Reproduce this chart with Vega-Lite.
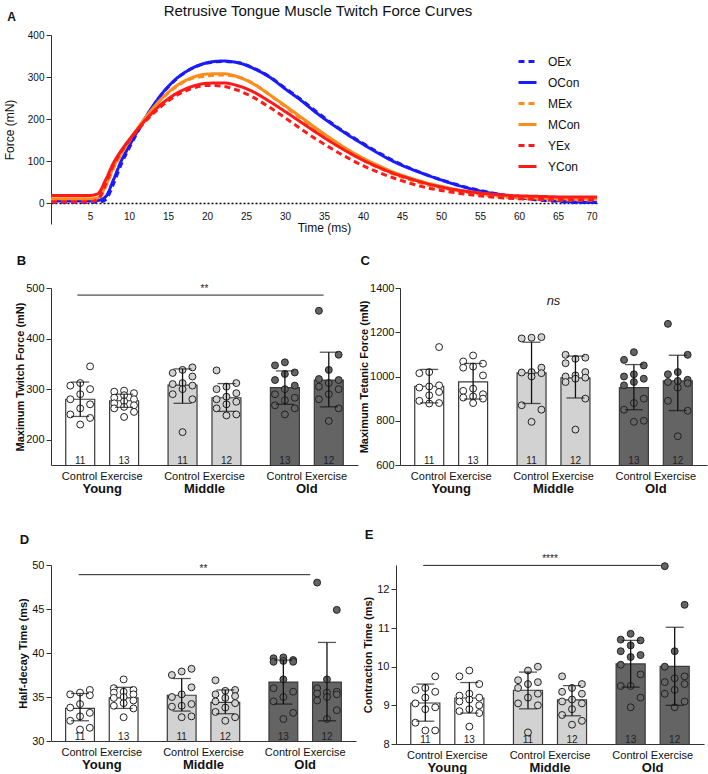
{
  "$schema": "https://vega.github.io/schema/vega-lite/v6.json",
  "padding": {"left": 3, "top": 4, "right": 2, "bottom": 4},
  "title": {"text": "A", "anchor": "start", "frame": "bounds", "fontSize": 12, "fontWeight": "bold", "dy": 24, "dx": 4},
  "columns": 1,
  "align": "none",
  "spacing": 22,
  "resolve": {"scale": {"color": "independent", "strokeDash": "independent"}, "legend": {"color": "independent", "strokeDash": "independent"}},
  "concat": [
    {
      "title": {"text": "Retrusive Tongue Muscle Twitch Force Curves", "fontSize": 15, "fontWeight": "normal", "anchor": "middle", "frame": "group", "dx": -6, "offset": 11},
      "width": 546, "height": 189,
      "data": {"name": "curves"},
      "transform": [{"fold": ["OEx", "OCon", "MEx", "MCon", "YEx", "YCon"], "as": ["series", "force"]}],
      "mark": {"type": "line", "strokeWidth": 3, "interpolate": "monotone"},
      "encoding": {
        "x": {"field": "t", "type": "quantitative", "scale": {"domain": [0, 70], "nice": false},
          "axis": {"values": [5, 10, 15, 20, 25, 30, 35, 40, 45, 50, 55, 60, 65, 70], "title": "Time (ms)", "offset": -21, "domainDash": [2, 2], "domainColor": "#000000", "domainWidth": 1.5, "ticks": false, "labelPadding": 8, "labelFontSize": 10, "titleFontSize": 12, "titleFontWeight": "normal", "titlePadding": 1}},
        "y": {"field": "force", "type": "quantitative", "scale": {"domain": [-50, 400], "nice": false},
          "axis": {"values": [0, 100, 200, 300, 400], "title": "Force (mN)", "titleFontWeight": "normal", "titleFontSize": 12, "labelFontSize": 10, "titlePadding": 11}},
        "color": {"field": "series", "type": "nominal",
          "scale": {"domain": ["OEx", "OCon", "MEx", "MCon", "YEx", "YCon"], "range": ["#1a1aff", "#1a1aff", "#ff8c1a", "#ff8c1a", "#ff1a1a", "#ff1a1a"]},
          "legend": {"title": null, "orient": "top-right", "offset": 16, "symbolType": "stroke", "symbolSize": 324, "symbolStrokeWidth": 3, "labelFontSize": 12, "labelOffset": 10, "rowPadding": 4, "labelColor": "#111111"}},
        "strokeDash": {"field": "series", "type": "nominal",
          "scale": {"domain": ["OEx", "OCon", "MEx", "MCon", "YEx", "YCon"], "range": [[6, 4], [1, 0], [6, 4], [1, 0], [6, 4], [1, 0]]},
          "legend": {"title": null, "orient": "top-right", "offset": 16, "symbolType": "stroke", "symbolSize": 324, "symbolStrokeWidth": 3, "labelFontSize": 12, "labelOffset": 10, "rowPadding": 4, "labelColor": "#111111"}}
      }
    },
    {"concat": [
      {"hconcat": [
        {
          "title": {"text": "B", "anchor": "start", "frame": "bounds", "fontSize": 13, "fontWeight": "bold", "offset": 14, "dx": 2},
          "width": 307, "height": 177,
          "resolve": {"scale": {"x": "independent", "xOffset": "independent"}},
          "layer": [
            {
              "data": {"name": "bars"},
              "transform": [{"filter": "datum.panel == 'B'"}],
              "mark": {"type": "bar", "stroke": "#3a3a3a", "strokeWidth": 1.2, "clip": true},
              "encoding": {
                "x": {"field": "age", "type": "nominal", "scale": {"domain": ["Young", "Middle", "Old"], "paddingInner": 0.288, "paddingOuter": 0.144},
                  "axis": {"orient": "bottom", "title": null, "labelExpr": "'Control Exercise'", "ticks": false, "labelAngle": 0, "labelPadding": 5, "labelFontSize": 11}},
                "xOffset": {"field": "treat", "type": "nominal", "scale": {"domain": ["Control", "Exercise"], "paddingInner": 0.34, "paddingOuter": 0}},
                "y": {"field": "mean", "type": "quantitative", "title": "Maximum Twitch Force (mN)", "scale": {"domain": [150, 500]}, "axis": {"values": [200, 300, 400, 500], "format": "d", "titlePadding": 0}},
                "fill": {"field": "age", "type": "nominal", "scale": {"domain": ["Young", "Middle", "Old"], "range": ["#ffffff", "#d2d2d2", "#646464"]}, "legend": null}
              }
            },
            {
              "data": {"name": "pts"},
              "transform": [
                {"filter": "datum.panel == 'B'"},
                {"window": [{"op": "row_number", "as": "rk"}], "groupby": ["age", "treat"], "sort": [{"field": "v", "order": "ascending"}]},
                {"calculate": "(datum.treat == 'Control' ? -1 : 1) + ((datum.rk % 3) - 1) * 0.45", "as": "off"}
              ],
              "mark": {"type": "circle", "size": 48, "stroke": "#222222", "strokeWidth": 1, "opacity": 1},
              "encoding": {
                "x": {"field": "age", "type": "nominal", "scale": {"domain": ["Young", "Middle", "Old"], "paddingInner": 0.288, "paddingOuter": 0.144},
                  "axis": {"orient": "bottom", "title": null, "ticks": false, "domain": false, "labelAngle": 0, "labelFontSize": 13, "labelFontWeight": "bold", "offset": 17, "labelPadding": 0}},
                "xOffset": {"field": "off", "type": "quantitative", "scale": {"domain": [-1.66, 1.66]}},
                "y": {"field": "v", "type": "quantitative", "title": "Maximum Twitch Force (mN)", "scale": {"domain": [150, 500]}},
                "fill": {"field": "age", "type": "nominal", "legend": null}
              }
            },
            {
              "data": {"name": "bars"},
              "transform": [{"filter": "datum.panel == 'B'"}],
              "encoding": {
                "x": {"field": "age", "type": "nominal", "scale": {"domain": ["Young", "Middle", "Old"], "paddingInner": 0.288, "paddingOuter": 0.144}, "axis": null},
                "xOffset": {"field": "treat", "type": "nominal", "scale": {"domain": ["Control", "Exercise"], "paddingInner": 0.34, "paddingOuter": 0}}
              },
              "layer": [
                {"mark": {"type": "rule", "color": "#111111", "strokeWidth": 1.3}, "encoding": {"y": {"field": "lo", "type": "quantitative", "title": "Maximum Twitch Force (mN)"}, "y2": {"field": "hi"}}},
                {"mark": {"type": "tick", "color": "#111111", "thickness": 1.3, "size": 18}, "encoding": {"y": {"field": "lo", "type": "quantitative", "title": "Maximum Twitch Force (mN)"}}},
                {"mark": {"type": "tick", "color": "#111111", "thickness": 1.3, "size": 18}, "encoding": {"y": {"field": "hi", "type": "quantitative", "title": "Maximum Twitch Force (mN)"}}},
                {"mark": {"type": "text", "y": "height", "baseline": "bottom", "dy": 1, "fontSize": 10, "color": "#222222"}, "encoding": {"text": {"field": "n", "type": "quantitative"}}}
              ]
            },
            {
              "data": {"name": "sig"},
              "transform": [{"filter": "datum.panel == 'B'"}],
              "mark": {"type": "rule", "color": "#222222", "strokeWidth": 1},
              "encoding": {
                "x": {"field": "from", "type": "nominal", "scale": {"domain": ["Young", "Middle", "Old"], "paddingInner": 0.288, "paddingOuter": 0.144}, "axis": null, "bandPosition": 0.16},
                "x2": {"field": "to", "bandPosition": 0.73},
                "y": {"field": "y", "type": "quantitative", "title": "Maximum Twitch Force (mN)"}
              }
            },
            {
              "data": {"name": "sig"},
              "transform": [{"filter": "datum.panel == 'B'"}],
              "mark": {"type": "text", "baseline": "bottom", "fontSize": 10, "dy": -1, "color": "#222222"},
              "encoding": {
                "x": {"datum": "Middle", "type": "nominal", "scale": {"domain": ["Young", "Middle", "Old"], "paddingInner": 0.288, "paddingOuter": 0.144}, "axis": null, "bandPosition": 0.38},
                "y": {"field": "y", "type": "quantitative", "title": "Maximum Twitch Force (mN)"},
                "text": {"field": "label"}
              }
            }
          ]
        },
        {
          "title": {"text": "C", "anchor": "start", "frame": "bounds", "fontSize": 13, "fontWeight": "bold", "offset": 14, "dx": 2},
          "width": 307, "height": 177,
          "resolve": {"scale": {"x": "independent", "xOffset": "independent"}},
          "layer": [
            {
              "data": {"name": "bars"},
              "transform": [{"filter": "datum.panel == 'C'"}],
              "mark": {"type": "bar", "stroke": "#3a3a3a", "strokeWidth": 1.2, "clip": true},
              "encoding": {
                "x": {"field": "age", "type": "nominal", "scale": {"domain": ["Young", "Middle", "Old"], "paddingInner": 0.288, "paddingOuter": 0.144},
                  "axis": {"orient": "bottom", "title": null, "labelExpr": "'Control Exercise'", "ticks": false, "labelAngle": 0, "labelPadding": 5, "labelFontSize": 11}},
                "xOffset": {"field": "treat", "type": "nominal", "scale": {"domain": ["Control", "Exercise"], "paddingInner": 0.34, "paddingOuter": 0}},
                "y": {"field": "mean", "type": "quantitative", "title": "Maximum Tetanic Force (mN)", "scale": {"domain": [600, 1400]}, "axis": {"values": [600, 800, 1000, 1200, 1400], "format": "d", "titlePadding": 0, "labelPadding": 1}},
                "fill": {"field": "age", "type": "nominal", "scale": {"domain": ["Young", "Middle", "Old"], "range": ["#ffffff", "#d2d2d2", "#646464"]}, "legend": null}
              }
            },
            {
              "data": {"name": "pts"},
              "transform": [
                {"filter": "datum.panel == 'C'"},
                {"window": [{"op": "row_number", "as": "rk"}], "groupby": ["age", "treat"], "sort": [{"field": "v", "order": "ascending"}]},
                {"calculate": "(datum.treat == 'Control' ? -1 : 1) + ((datum.rk % 3) - 1) * 0.45", "as": "off"}
              ],
              "mark": {"type": "circle", "size": 48, "stroke": "#222222", "strokeWidth": 1, "opacity": 1},
              "encoding": {
                "x": {"field": "age", "type": "nominal", "scale": {"domain": ["Young", "Middle", "Old"], "paddingInner": 0.288, "paddingOuter": 0.144},
                  "axis": {"orient": "bottom", "title": null, "ticks": false, "domain": false, "labelAngle": 0, "labelFontSize": 13, "labelFontWeight": "bold", "offset": 17, "labelPadding": 0}},
                "xOffset": {"field": "off", "type": "quantitative", "scale": {"domain": [-1.66, 1.66]}},
                "y": {"field": "v", "type": "quantitative", "title": "Maximum Tetanic Force (mN)", "scale": {"domain": [600, 1400]}},
                "fill": {"field": "age", "type": "nominal", "legend": null}
              }
            },
            {
              "data": {"name": "bars"},
              "transform": [{"filter": "datum.panel == 'C'"}],
              "encoding": {
                "x": {"field": "age", "type": "nominal", "scale": {"domain": ["Young", "Middle", "Old"], "paddingInner": 0.288, "paddingOuter": 0.144}, "axis": null},
                "xOffset": {"field": "treat", "type": "nominal", "scale": {"domain": ["Control", "Exercise"], "paddingInner": 0.34, "paddingOuter": 0}}
              },
              "layer": [
                {"mark": {"type": "rule", "color": "#111111", "strokeWidth": 1.3}, "encoding": {"y": {"field": "lo", "type": "quantitative", "title": "Maximum Tetanic Force (mN)"}, "y2": {"field": "hi"}}},
                {"mark": {"type": "tick", "color": "#111111", "thickness": 1.3, "size": 18}, "encoding": {"y": {"field": "lo", "type": "quantitative", "title": "Maximum Tetanic Force (mN)"}}},
                {"mark": {"type": "tick", "color": "#111111", "thickness": 1.3, "size": 18}, "encoding": {"y": {"field": "hi", "type": "quantitative", "title": "Maximum Tetanic Force (mN)"}}},
                {"mark": {"type": "text", "y": "height", "baseline": "bottom", "dy": 1, "fontSize": 10, "color": "#222222"}, "encoding": {"text": {"field": "n", "type": "quantitative"}}}
              ]
            },
            {
              "data": {"name": "sig"},
              "transform": [{"filter": "datum.panel == 'C'"}],
              "mark": {"type": "text", "baseline": "middle", "fontSize": 13, "fontStyle": "italic", "color": "#222222"},
              "encoding": {
                "x": {"datum": "Middle", "type": "nominal", "scale": {"domain": ["Young", "Middle", "Old"], "paddingInner": 0.288, "paddingOuter": 0.144}, "axis": null, "bandPosition": 0.41},
                "y": {"field": "y", "type": "quantitative", "title": "Maximum Tetanic Force (mN)"},
                "text": {"field": "label"}
              }
            }
          ]
        }
      ], "spacing": 0},
      {"hconcat": [
        {
          "title": {"text": "D", "anchor": "start", "frame": "bounds", "fontSize": 13, "fontWeight": "bold", "offset": 12, "dx": 2},
          "width": 305, "height": 176,
          "resolve": {"scale": {"x": "independent", "xOffset": "independent"}},
          "layer": [
            {
              "data": {"name": "bars"},
              "transform": [{"filter": "datum.panel == 'D'"}],
              "mark": {"type": "bar", "stroke": "#3a3a3a", "strokeWidth": 1.2, "clip": true},
              "encoding": {
                "x": {"field": "age", "type": "nominal", "scale": {"domain": ["Young", "Middle", "Old"], "paddingInner": 0.288, "paddingOuter": 0.144},
                  "axis": {"orient": "bottom", "title": null, "labelExpr": "'Control Exercise'", "ticks": false, "labelAngle": 0, "labelPadding": 5, "labelFontSize": 11}},
                "xOffset": {"field": "treat", "type": "nominal", "scale": {"domain": ["Control", "Exercise"], "paddingInner": 0.34, "paddingOuter": 0}},
                "y": {"field": "mean", "type": "quantitative", "title": "Half-decay Time (ms)", "scale": {"domain": [30, 50]}, "axis": {"values": [30, 35, 40, 45, 50], "format": "d"}},
                "fill": {"field": "age", "type": "nominal", "scale": {"domain": ["Young", "Middle", "Old"], "range": ["#ffffff", "#d2d2d2", "#646464"]}, "legend": null}
              }
            },
            {
              "data": {"name": "pts"},
              "transform": [
                {"filter": "datum.panel == 'D'"},
                {"window": [{"op": "row_number", "as": "rk"}], "groupby": ["age", "treat"], "sort": [{"field": "v", "order": "ascending"}]},
                {"calculate": "(datum.treat == 'Control' ? -1 : 1) + ((datum.rk % 3) - 1) * 0.45", "as": "off"}
              ],
              "mark": {"type": "circle", "size": 48, "stroke": "#222222", "strokeWidth": 1, "opacity": 1},
              "encoding": {
                "x": {"field": "age", "type": "nominal", "scale": {"domain": ["Young", "Middle", "Old"], "paddingInner": 0.288, "paddingOuter": 0.144},
                  "axis": {"orient": "bottom", "title": null, "ticks": false, "domain": false, "labelAngle": 0, "labelFontSize": 13, "labelFontWeight": "bold", "offset": 17, "labelPadding": 0}},
                "xOffset": {"field": "off", "type": "quantitative", "scale": {"domain": [-1.66, 1.66]}},
                "y": {"field": "v", "type": "quantitative", "title": "Half-decay Time (ms)", "scale": {"domain": [30, 50]}},
                "fill": {"field": "age", "type": "nominal", "legend": null}
              }
            },
            {
              "data": {"name": "bars"},
              "transform": [{"filter": "datum.panel == 'D'"}],
              "encoding": {
                "x": {"field": "age", "type": "nominal", "scale": {"domain": ["Young", "Middle", "Old"], "paddingInner": 0.288, "paddingOuter": 0.144}, "axis": null},
                "xOffset": {"field": "treat", "type": "nominal", "scale": {"domain": ["Control", "Exercise"], "paddingInner": 0.34, "paddingOuter": 0}}
              },
              "layer": [
                {"mark": {"type": "rule", "color": "#111111", "strokeWidth": 1.3}, "encoding": {"y": {"field": "lo", "type": "quantitative", "title": "Half-decay Time (ms)"}, "y2": {"field": "hi"}}},
                {"mark": {"type": "tick", "color": "#111111", "thickness": 1.3, "size": 18}, "encoding": {"y": {"field": "lo", "type": "quantitative", "title": "Half-decay Time (ms)"}}},
                {"mark": {"type": "tick", "color": "#111111", "thickness": 1.3, "size": 18}, "encoding": {"y": {"field": "hi", "type": "quantitative", "title": "Half-decay Time (ms)"}}},
                {"mark": {"type": "text", "y": "height", "baseline": "bottom", "dy": 1, "fontSize": 10, "color": "#222222"}, "encoding": {"text": {"field": "n", "type": "quantitative"}}}
              ]
            },
            {
              "data": {"name": "sig"},
              "transform": [{"filter": "datum.panel == 'D'"}],
              "mark": {"type": "rule", "color": "#222222", "strokeWidth": 1},
              "encoding": {
                "x": {"field": "from", "type": "nominal", "scale": {"domain": ["Young", "Middle", "Old"], "paddingInner": 0.288, "paddingOuter": 0.144}, "axis": null, "bandPosition": 0.18},
                "x2": {"field": "to", "bandPosition": 0.57},
                "y": {"field": "y", "type": "quantitative", "title": "Half-decay Time (ms)"}
              }
            },
            {
              "data": {"name": "sig"},
              "transform": [{"filter": "datum.panel == 'D'"}],
              "mark": {"type": "text", "baseline": "bottom", "fontSize": 10, "dy": -1, "color": "#222222"},
              "encoding": {
                "x": {"datum": "Middle", "type": "nominal", "scale": {"domain": ["Young", "Middle", "Old"], "paddingInner": 0.288, "paddingOuter": 0.144}, "axis": null, "bandPosition": 0.35},
                "y": {"field": "y", "type": "quantitative", "title": "Half-decay Time (ms)"},
                "text": {"field": "label"}
              }
            }
          ]
        },
        {
          "title": {"text": "E", "anchor": "start", "frame": "bounds", "fontSize": 13, "fontWeight": "bold", "offset": 12, "dx": 2},
          "width": 308, "height": 179,
          "resolve": {"scale": {"x": "independent", "xOffset": "independent"}},
          "layer": [
            {
              "data": {"name": "bars"},
              "transform": [{"filter": "datum.panel == 'E'"}],
              "mark": {"type": "bar", "stroke": "#3a3a3a", "strokeWidth": 1.2, "clip": true},
              "encoding": {
                "x": {"field": "age", "type": "nominal", "scale": {"domain": ["Young", "Middle", "Old"], "paddingInner": 0.288, "paddingOuter": 0.144},
                  "axis": {"orient": "bottom", "title": null, "labelExpr": "'Control Exercise'", "ticks": false, "labelAngle": 0, "labelPadding": 5, "labelFontSize": 11}},
                "xOffset": {"field": "treat", "type": "nominal", "scale": {"domain": ["Control", "Exercise"], "paddingInner": 0.34, "paddingOuter": 0}},
                "y": {"field": "mean", "type": "quantitative", "title": "Contraction Time (ms)", "scale": {"domain": [8, 12.63], "nice": false}, "axis": {"values": [8, 9, 10, 11, 12], "format": "d"}},
                "fill": {"field": "age", "type": "nominal", "scale": {"domain": ["Young", "Middle", "Old"], "range": ["#ffffff", "#d2d2d2", "#646464"]}, "legend": null}
              }
            },
            {
              "data": {"name": "pts"},
              "transform": [
                {"filter": "datum.panel == 'E'"},
                {"window": [{"op": "row_number", "as": "rk"}], "groupby": ["age", "treat"], "sort": [{"field": "v", "order": "ascending"}]},
                {"calculate": "(datum.treat == 'Control' ? -1 : 1) + ((datum.rk % 3) - 1) * 0.45", "as": "off"}
              ],
              "mark": {"type": "circle", "size": 48, "stroke": "#222222", "strokeWidth": 1, "opacity": 1},
              "encoding": {
                "x": {"field": "age", "type": "nominal", "scale": {"domain": ["Young", "Middle", "Old"], "paddingInner": 0.288, "paddingOuter": 0.144},
                  "axis": {"orient": "bottom", "title": null, "ticks": false, "domain": false, "labelAngle": 0, "labelFontSize": 13, "labelFontWeight": "bold", "offset": 17, "labelPadding": 0}},
                "xOffset": {"field": "off", "type": "quantitative", "scale": {"domain": [-1.66, 1.66]}},
                "y": {"field": "v", "type": "quantitative", "title": "Contraction Time (ms)", "scale": {"domain": [8, 12.63], "nice": false}},
                "fill": {"field": "age", "type": "nominal", "legend": null}
              }
            },
            {
              "data": {"name": "bars"},
              "transform": [{"filter": "datum.panel == 'E'"}],
              "encoding": {
                "x": {"field": "age", "type": "nominal", "scale": {"domain": ["Young", "Middle", "Old"], "paddingInner": 0.288, "paddingOuter": 0.144}, "axis": null},
                "xOffset": {"field": "treat", "type": "nominal", "scale": {"domain": ["Control", "Exercise"], "paddingInner": 0.34, "paddingOuter": 0}}
              },
              "layer": [
                {"mark": {"type": "rule", "color": "#111111", "strokeWidth": 1.3}, "encoding": {"y": {"field": "lo", "type": "quantitative", "title": "Contraction Time (ms)"}, "y2": {"field": "hi"}}},
                {"mark": {"type": "tick", "color": "#111111", "thickness": 1.3, "size": 18}, "encoding": {"y": {"field": "lo", "type": "quantitative", "title": "Contraction Time (ms)"}}},
                {"mark": {"type": "tick", "color": "#111111", "thickness": 1.3, "size": 18}, "encoding": {"y": {"field": "hi", "type": "quantitative", "title": "Contraction Time (ms)"}}},
                {"mark": {"type": "text", "y": "height", "baseline": "bottom", "dy": 1, "fontSize": 10, "color": "#222222"}, "encoding": {"text": {"field": "n", "type": "quantitative"}}}
              ]
            },
            {
              "data": {"name": "sig"},
              "transform": [{"filter": "datum.panel == 'E'"}],
              "mark": {"type": "rule", "color": "#222222", "strokeWidth": 1},
              "encoding": {
                "x": {"field": "from", "type": "nominal", "scale": {"domain": ["Young", "Middle", "Old"], "paddingInner": 0.288, "paddingOuter": 0.144}, "axis": null, "bandPosition": 0.17},
                "x2": {"field": "to", "bandPosition": 0.61},
                "y": {"field": "y", "type": "quantitative", "title": "Contraction Time (ms)"}
              }
            },
            {
              "data": {"name": "sig"},
              "transform": [{"filter": "datum.panel == 'E'"}],
              "mark": {"type": "text", "baseline": "bottom", "fontSize": 10, "dy": -1, "color": "#222222"},
              "encoding": {
                "x": {"datum": "Middle", "type": "nominal", "scale": {"domain": ["Young", "Middle", "Old"], "paddingInner": 0.288, "paddingOuter": 0.144}, "axis": null, "bandPosition": 0.35},
                "y": {"field": "y", "type": "quantitative", "title": "Contraction Time (ms)"},
                "text": {"field": "label"}
              }
            }
          ]
        }
      ], "spacing": 6}
    ], "columns": 1, "align": "none", "spacing": 34}
  ],
  "datasets": {
    "curves": [
      {"t": 0, "OEx": 2, "OCon": 5, "MEx": 6, "MCon": 10, "YEx": 3, "YCon": 18},
      {"t": 5, "OEx": 2, "OCon": 5, "MEx": 6, "MCon": 10, "YEx": 3, "YCon": 18},
      {"t": 6, "OEx": 2, "OCon": 6, "MEx": 8, "MCon": 12, "YEx": 8, "YCon": 22},
      {"t": 7, "OEx": 8, "OCon": 15, "MEx": 38, "MCon": 40, "YEx": 45, "YCon": 55},
      {"t": 8, "OEx": 45, "OCon": 55, "MEx": 82, "MCon": 85, "YEx": 90, "YCon": 95},
      {"t": 9, "OEx": 92, "OCon": 100, "MEx": 116, "MCon": 118, "YEx": 122, "YCon": 125},
      {"t": 10, "OEx": 130, "OCon": 135, "MEx": 146, "MCon": 148, "YEx": 148, "YCon": 150},
      {"t": 12, "OEx": 198, "OCon": 200, "MEx": 200, "MCon": 200, "YEx": 192, "YCon": 195},
      {"t": 14, "OEx": 254, "OCon": 255, "MEx": 244, "MCon": 245, "YEx": 228, "YCon": 233},
      {"t": 16, "OEx": 294, "OCon": 295, "MEx": 276, "MCon": 278, "YEx": 255, "YCon": 260},
      {"t": 18, "OEx": 320, "OCon": 320, "MEx": 296, "MCon": 298, "YEx": 272, "YCon": 277},
      {"t": 20, "OEx": 333, "OCon": 334, "MEx": 302, "MCon": 307, "YEx": 280, "YCon": 285},
      {"t": 22, "OEx": 337, "OCon": 338, "MEx": 305, "MCon": 308, "YEx": 278, "YCon": 286},
      {"t": 24, "OEx": 334, "OCon": 334, "MEx": 300, "MCon": 300, "YEx": 268, "YCon": 279},
      {"t": 26, "OEx": 321, "OCon": 320, "MEx": 284, "MCon": 283, "YEx": 251, "YCon": 264},
      {"t": 28, "OEx": 301, "OCon": 300, "MEx": 258, "MCon": 258, "YEx": 228, "YCon": 242},
      {"t": 30, "OEx": 274, "OCon": 272, "MEx": 230, "MCon": 232, "YEx": 203, "YCon": 218},
      {"t": 32, "OEx": 247, "OCon": 245, "MEx": 202, "MCon": 205, "YEx": 177, "YCon": 193},
      {"t": 34, "OEx": 218, "OCon": 215, "MEx": 174, "MCon": 178, "YEx": 152, "YCon": 168},
      {"t": 36, "OEx": 190, "OCon": 188, "MEx": 147, "MCon": 152, "YEx": 129, "YCon": 144},
      {"t": 38, "OEx": 165, "OCon": 163, "MEx": 123, "MCon": 128, "YEx": 108, "YCon": 122},
      {"t": 40, "OEx": 142, "OCon": 140, "MEx": 102, "MCon": 107, "YEx": 89, "YCon": 102},
      {"t": 42, "OEx": 120, "OCon": 118, "MEx": 84, "MCon": 89, "YEx": 73, "YCon": 85},
      {"t": 44, "OEx": 100, "OCon": 98, "MEx": 68, "MCon": 73, "YEx": 59, "YCon": 70},
      {"t": 46, "OEx": 83, "OCon": 82, "MEx": 55, "MCon": 60, "YEx": 47, "YCon": 58},
      {"t": 48, "OEx": 68, "OCon": 68, "MEx": 44, "MCon": 49, "YEx": 37, "YCon": 47},
      {"t": 50, "OEx": 55, "OCon": 55, "MEx": 36, "MCon": 40, "YEx": 30, "YCon": 38},
      {"t": 52, "OEx": 44, "OCon": 43, "MEx": 29, "MCon": 32, "YEx": 24, "YCon": 31},
      {"t": 54, "OEx": 34, "OCon": 33, "MEx": 23, "MCon": 26, "YEx": 19, "YCon": 26},
      {"t": 56, "OEx": 26, "OCon": 25, "MEx": 18, "MCon": 21, "YEx": 15, "YCon": 22},
      {"t": 58, "OEx": 19, "OCon": 19, "MEx": 14, "MCon": 17, "YEx": 12, "YCon": 19},
      {"t": 60, "OEx": 13, "OCon": 14, "MEx": 11, "MCon": 14, "YEx": 10, "YCon": 17},
      {"t": 62, "OEx": 8, "OCon": 10, "MEx": 9, "MCon": 12, "YEx": 9, "YCon": 16},
      {"t": 64, "OEx": 5, "OCon": 7, "MEx": 8, "MCon": 11, "YEx": 8, "YCon": 15},
      {"t": 66, "OEx": 2, "OCon": 4, "MEx": 7, "MCon": 10, "YEx": 8, "YCon": 14},
      {"t": 68, "OEx": 1, "OCon": 2, "MEx": 7, "MCon": 10, "YEx": 8, "YCon": 14},
      {"t": 70, "OEx": 1, "OCon": 2, "MEx": 7, "MCon": 10, "YEx": 8, "YCon": 14}
    ],
    "bars": [
      {"panel": "B", "age": "Young", "treat": "Control", "mean": 280, "lo": 246, "hi": 314, "n": 11},
      {"panel": "B", "age": "Young", "treat": "Exercise", "mean": 277, "lo": 264, "hi": 290, "n": 13},
      {"panel": "B", "age": "Middle", "treat": "Control", "mean": 308, "lo": 272, "hi": 340, "n": 11},
      {"panel": "B", "age": "Middle", "treat": "Exercise", "mean": 283, "lo": 256, "hi": 311, "n": 12},
      {"panel": "B", "age": "Old", "treat": "Control", "mean": 303, "lo": 270, "hi": 336, "n": 13},
      {"panel": "B", "age": "Old", "treat": "Exercise", "mean": 318, "lo": 265, "hi": 373, "n": 12},
      {"panel": "C", "age": "Young", "treat": "Control", "mean": 956, "lo": 881, "hi": 1032, "n": 11},
      {"panel": "C", "age": "Young", "treat": "Exercise", "mean": 976, "lo": 898, "hi": 1059, "n": 13},
      {"panel": "C", "age": "Middle", "treat": "Control", "mean": 1016, "lo": 878, "hi": 1155, "n": 11},
      {"panel": "C", "age": "Middle", "treat": "Exercise", "mean": 994, "lo": 903, "hi": 1092, "n": 12},
      {"panel": "C", "age": "Old", "treat": "Control", "mean": 950, "lo": 850, "hi": 1054, "n": 13},
      {"panel": "C", "age": "Old", "treat": "Exercise", "mean": 980, "lo": 846, "hi": 1096, "n": 12},
      {"panel": "D", "age": "Young", "treat": "Control", "mean": 33.7, "lo": 32.3, "hi": 35.4, "n": 11},
      {"panel": "D", "age": "Young", "treat": "Exercise", "mean": 34.9, "lo": 33.7, "hi": 36.1, "n": 13},
      {"panel": "D", "age": "Middle", "treat": "Control", "mean": 35.2, "lo": 33.4, "hi": 37.1, "n": 11},
      {"panel": "D", "age": "Middle", "treat": "Exercise", "mean": 34.4, "lo": 33.1, "hi": 35.8, "n": 12},
      {"panel": "D", "age": "Old", "treat": "Control", "mean": 36.7, "lo": 34.2, "hi": 39.2, "n": 13},
      {"panel": "D", "age": "Old", "treat": "Exercise", "mean": 36.7, "lo": 32.3, "hi": 41.2, "n": 12},
      {"panel": "E", "age": "Young", "treat": "Control", "mean": 9.06, "lo": 8.59, "hi": 9.55, "n": 11},
      {"panel": "E", "age": "Young", "treat": "Exercise", "mean": 9.19, "lo": 8.8, "hi": 9.59, "n": 13},
      {"panel": "E", "age": "Middle", "treat": "Control", "mean": 9.39, "lo": 8.91, "hi": 9.86, "n": 11},
      {"panel": "E", "age": "Middle", "treat": "Exercise", "mean": 9.14, "lo": 8.73, "hi": 9.51, "n": 12},
      {"panel": "E", "age": "Old", "treat": "Control", "mean": 10.07, "lo": 9.47, "hi": 10.68, "n": 13},
      {"panel": "E", "age": "Old", "treat": "Exercise", "mean": 10.01, "lo": 9.0, "hi": 11.02, "n": 12}
    ],
    "sig": [
      {"panel": "B", "from": "Young", "to": "Old", "y": 486, "label": "**"},
      {"panel": "C", "from": "Young", "to": "Old", "y": 1340, "label": "ns"},
      {"panel": "D", "from": "Young", "to": "Old", "y": 48.9, "label": "**"},
      {"panel": "E", "from": "Young", "to": "Old", "y": 12.62, "label": "****"}
    ],
    "pts": [
      {"panel": "B", "age": "Young", "treat": "Control", "v": 345},
      {"panel": "B", "age": "Young", "treat": "Control", "v": 312},
      {"panel": "B", "age": "Young", "treat": "Control", "v": 307},
      {"panel": "B", "age": "Young", "treat": "Control", "v": 300},
      {"panel": "B", "age": "Young", "treat": "Control", "v": 290},
      {"panel": "B", "age": "Young", "treat": "Control", "v": 280},
      {"panel": "B", "age": "Young", "treat": "Control", "v": 270},
      {"panel": "B", "age": "Young", "treat": "Control", "v": 262},
      {"panel": "B", "age": "Young", "treat": "Control", "v": 250},
      {"panel": "B", "age": "Young", "treat": "Control", "v": 243},
      {"panel": "B", "age": "Young", "treat": "Control", "v": 230},
      {"panel": "B", "age": "Young", "treat": "Exercise", "v": 297},
      {"panel": "B", "age": "Young", "treat": "Exercise", "v": 295},
      {"panel": "B", "age": "Young", "treat": "Exercise", "v": 292},
      {"panel": "B", "age": "Young", "treat": "Exercise", "v": 288},
      {"panel": "B", "age": "Young", "treat": "Exercise", "v": 283},
      {"panel": "B", "age": "Young", "treat": "Exercise", "v": 280},
      {"panel": "B", "age": "Young", "treat": "Exercise", "v": 276},
      {"panel": "B", "age": "Young", "treat": "Exercise", "v": 272},
      {"panel": "B", "age": "Young", "treat": "Exercise", "v": 268},
      {"panel": "B", "age": "Young", "treat": "Exercise", "v": 265},
      {"panel": "B", "age": "Young", "treat": "Exercise", "v": 262},
      {"panel": "B", "age": "Young", "treat": "Exercise", "v": 255},
      {"panel": "B", "age": "Young", "treat": "Exercise", "v": 245},
      {"panel": "B", "age": "Middle", "treat": "Control", "v": 343},
      {"panel": "B", "age": "Middle", "treat": "Control", "v": 338},
      {"panel": "B", "age": "Middle", "treat": "Control", "v": 332},
      {"panel": "B", "age": "Middle", "treat": "Control", "v": 325},
      {"panel": "B", "age": "Middle", "treat": "Control", "v": 312},
      {"panel": "B", "age": "Middle", "treat": "Control", "v": 310},
      {"panel": "B", "age": "Middle", "treat": "Control", "v": 307},
      {"panel": "B", "age": "Middle", "treat": "Control", "v": 300},
      {"panel": "B", "age": "Middle", "treat": "Control", "v": 290},
      {"panel": "B", "age": "Middle", "treat": "Control", "v": 280},
      {"panel": "B", "age": "Middle", "treat": "Control", "v": 215},
      {"panel": "B", "age": "Middle", "treat": "Exercise", "v": 337},
      {"panel": "B", "age": "Middle", "treat": "Exercise", "v": 312},
      {"panel": "B", "age": "Middle", "treat": "Exercise", "v": 305},
      {"panel": "B", "age": "Middle", "treat": "Exercise", "v": 300},
      {"panel": "B", "age": "Middle", "treat": "Exercise", "v": 292},
      {"panel": "B", "age": "Middle", "treat": "Exercise", "v": 285},
      {"panel": "B", "age": "Middle", "treat": "Exercise", "v": 280},
      {"panel": "B", "age": "Middle", "treat": "Exercise", "v": 275},
      {"panel": "B", "age": "Middle", "treat": "Exercise", "v": 270},
      {"panel": "B", "age": "Middle", "treat": "Exercise", "v": 262},
      {"panel": "B", "age": "Middle", "treat": "Exercise", "v": 250},
      {"panel": "B", "age": "Middle", "treat": "Exercise", "v": 248},
      {"panel": "B", "age": "Old", "treat": "Control", "v": 353},
      {"panel": "B", "age": "Old", "treat": "Control", "v": 347},
      {"panel": "B", "age": "Old", "treat": "Control", "v": 333},
      {"panel": "B", "age": "Old", "treat": "Control", "v": 330},
      {"panel": "B", "age": "Old", "treat": "Control", "v": 318},
      {"panel": "B", "age": "Old", "treat": "Control", "v": 307},
      {"panel": "B", "age": "Old", "treat": "Control", "v": 300},
      {"panel": "B", "age": "Old", "treat": "Control", "v": 290},
      {"panel": "B", "age": "Old", "treat": "Control", "v": 283},
      {"panel": "B", "age": "Old", "treat": "Control", "v": 278},
      {"panel": "B", "age": "Old", "treat": "Control", "v": 268},
      {"panel": "B", "age": "Old", "treat": "Control", "v": 262},
      {"panel": "B", "age": "Old", "treat": "Control", "v": 250},
      {"panel": "B", "age": "Old", "treat": "Exercise", "v": 455},
      {"panel": "B", "age": "Old", "treat": "Exercise", "v": 368},
      {"panel": "B", "age": "Old", "treat": "Exercise", "v": 338},
      {"panel": "B", "age": "Old", "treat": "Exercise", "v": 320},
      {"panel": "B", "age": "Old", "treat": "Exercise", "v": 318},
      {"panel": "B", "age": "Old", "treat": "Exercise", "v": 312},
      {"panel": "B", "age": "Old", "treat": "Exercise", "v": 305},
      {"panel": "B", "age": "Old", "treat": "Exercise", "v": 300},
      {"panel": "B", "age": "Old", "treat": "Exercise", "v": 290},
      {"panel": "B", "age": "Old", "treat": "Exercise", "v": 280},
      {"panel": "B", "age": "Old", "treat": "Exercise", "v": 262},
      {"panel": "B", "age": "Old", "treat": "Exercise", "v": 237},
      {"panel": "C", "age": "Young", "treat": "Control", "v": 1133},
      {"panel": "C", "age": "Young", "treat": "Control", "v": 1020},
      {"panel": "C", "age": "Young", "treat": "Control", "v": 1015},
      {"panel": "C", "age": "Young", "treat": "Control", "v": 960},
      {"panel": "C", "age": "Young", "treat": "Control", "v": 955},
      {"panel": "C", "age": "Young", "treat": "Control", "v": 950},
      {"panel": "C", "age": "Young", "treat": "Control", "v": 930},
      {"panel": "C", "age": "Young", "treat": "Control", "v": 915},
      {"panel": "C", "age": "Young", "treat": "Control", "v": 890},
      {"panel": "C", "age": "Young", "treat": "Control", "v": 880},
      {"panel": "C", "age": "Young", "treat": "Control", "v": 878},
      {"panel": "C", "age": "Young", "treat": "Exercise", "v": 1095},
      {"panel": "C", "age": "Young", "treat": "Exercise", "v": 1068},
      {"panel": "C", "age": "Young", "treat": "Exercise", "v": 1058},
      {"panel": "C", "age": "Young", "treat": "Exercise", "v": 1045},
      {"panel": "C", "age": "Young", "treat": "Exercise", "v": 1040},
      {"panel": "C", "age": "Young", "treat": "Exercise", "v": 1005},
      {"panel": "C", "age": "Young", "treat": "Exercise", "v": 945},
      {"panel": "C", "age": "Young", "treat": "Exercise", "v": 935},
      {"panel": "C", "age": "Young", "treat": "Exercise", "v": 920},
      {"panel": "C", "age": "Young", "treat": "Exercise", "v": 910},
      {"panel": "C", "age": "Young", "treat": "Exercise", "v": 905},
      {"panel": "C", "age": "Young", "treat": "Exercise", "v": 900},
      {"panel": "C", "age": "Young", "treat": "Exercise", "v": 880},
      {"panel": "C", "age": "Middle", "treat": "Control", "v": 1178},
      {"panel": "C", "age": "Middle", "treat": "Control", "v": 1175},
      {"panel": "C", "age": "Middle", "treat": "Control", "v": 1172},
      {"panel": "C", "age": "Middle", "treat": "Control", "v": 1040},
      {"panel": "C", "age": "Middle", "treat": "Control", "v": 1020},
      {"panel": "C", "age": "Middle", "treat": "Control", "v": 1018},
      {"panel": "C", "age": "Middle", "treat": "Control", "v": 1015},
      {"panel": "C", "age": "Middle", "treat": "Control", "v": 1000},
      {"panel": "C", "age": "Middle", "treat": "Control", "v": 870},
      {"panel": "C", "age": "Middle", "treat": "Control", "v": 850},
      {"panel": "C", "age": "Middle", "treat": "Control", "v": 795},
      {"panel": "C", "age": "Middle", "treat": "Exercise", "v": 1098},
      {"panel": "C", "age": "Middle", "treat": "Exercise", "v": 1085},
      {"panel": "C", "age": "Middle", "treat": "Exercise", "v": 1080},
      {"panel": "C", "age": "Middle", "treat": "Exercise", "v": 1060},
      {"panel": "C", "age": "Middle", "treat": "Exercise", "v": 1020},
      {"panel": "C", "age": "Middle", "treat": "Exercise", "v": 1005},
      {"panel": "C", "age": "Middle", "treat": "Exercise", "v": 1000},
      {"panel": "C", "age": "Middle", "treat": "Exercise", "v": 995},
      {"panel": "C", "age": "Middle", "treat": "Exercise", "v": 990},
      {"panel": "C", "age": "Middle", "treat": "Exercise", "v": 975},
      {"panel": "C", "age": "Middle", "treat": "Exercise", "v": 900},
      {"panel": "C", "age": "Middle", "treat": "Exercise", "v": 760},
      {"panel": "C", "age": "Old", "treat": "Control", "v": 1110},
      {"panel": "C", "age": "Old", "treat": "Control", "v": 1075},
      {"panel": "C", "age": "Old", "treat": "Control", "v": 1050},
      {"panel": "C", "age": "Old", "treat": "Control", "v": 1010},
      {"panel": "C", "age": "Old", "treat": "Control", "v": 1000},
      {"panel": "C", "age": "Old", "treat": "Control", "v": 990},
      {"panel": "C", "age": "Old", "treat": "Control", "v": 975},
      {"panel": "C", "age": "Old", "treat": "Control", "v": 960},
      {"panel": "C", "age": "Old", "treat": "Control", "v": 900},
      {"panel": "C", "age": "Old", "treat": "Control", "v": 880},
      {"panel": "C", "age": "Old", "treat": "Control", "v": 850},
      {"panel": "C", "age": "Old", "treat": "Control", "v": 800},
      {"panel": "C", "age": "Old", "treat": "Control", "v": 795},
      {"panel": "C", "age": "Old", "treat": "Exercise", "v": 1238},
      {"panel": "C", "age": "Old", "treat": "Exercise", "v": 1098},
      {"panel": "C", "age": "Old", "treat": "Exercise", "v": 1020},
      {"panel": "C", "age": "Old", "treat": "Exercise", "v": 1010},
      {"panel": "C", "age": "Old", "treat": "Exercise", "v": 985},
      {"panel": "C", "age": "Old", "treat": "Exercise", "v": 980},
      {"panel": "C", "age": "Old", "treat": "Exercise", "v": 975},
      {"panel": "C", "age": "Old", "treat": "Exercise", "v": 970},
      {"panel": "C", "age": "Old", "treat": "Exercise", "v": 950},
      {"panel": "C", "age": "Old", "treat": "Exercise", "v": 890},
      {"panel": "C", "age": "Old", "treat": "Exercise", "v": 845},
      {"panel": "C", "age": "Old", "treat": "Exercise", "v": 730},
      {"panel": "D", "age": "Young", "treat": "Control", "v": 35.8},
      {"panel": "D", "age": "Young", "treat": "Control", "v": 35.5},
      {"panel": "D", "age": "Young", "treat": "Control", "v": 35.3},
      {"panel": "D", "age": "Young", "treat": "Control", "v": 35.2},
      {"panel": "D", "age": "Young", "treat": "Control", "v": 34.2},
      {"panel": "D", "age": "Young", "treat": "Control", "v": 33.8},
      {"panel": "D", "age": "Young", "treat": "Control", "v": 33.2},
      {"panel": "D", "age": "Young", "treat": "Control", "v": 32.8},
      {"panel": "D", "age": "Young", "treat": "Control", "v": 32.3},
      {"panel": "D", "age": "Young", "treat": "Control", "v": 31.5},
      {"panel": "D", "age": "Young", "treat": "Control", "v": 31.3},
      {"panel": "D", "age": "Young", "treat": "Exercise", "v": 37.0},
      {"panel": "D", "age": "Young", "treat": "Exercise", "v": 36.0},
      {"panel": "D", "age": "Young", "treat": "Exercise", "v": 35.8},
      {"panel": "D", "age": "Young", "treat": "Exercise", "v": 35.6},
      {"panel": "D", "age": "Young", "treat": "Exercise", "v": 35.5},
      {"panel": "D", "age": "Young", "treat": "Exercise", "v": 35.3},
      {"panel": "D", "age": "Young", "treat": "Exercise", "v": 35.0},
      {"panel": "D", "age": "Young", "treat": "Exercise", "v": 34.9},
      {"panel": "D", "age": "Young", "treat": "Exercise", "v": 34.6},
      {"panel": "D", "age": "Young", "treat": "Exercise", "v": 34.3},
      {"panel": "D", "age": "Young", "treat": "Exercise", "v": 34.0},
      {"panel": "D", "age": "Young", "treat": "Exercise", "v": 33.7},
      {"panel": "D", "age": "Young", "treat": "Exercise", "v": 32.7},
      {"panel": "D", "age": "Middle", "treat": "Control", "v": 38.2},
      {"panel": "D", "age": "Middle", "treat": "Control", "v": 37.9},
      {"panel": "D", "age": "Middle", "treat": "Control", "v": 37.5},
      {"panel": "D", "age": "Middle", "treat": "Control", "v": 36.1},
      {"panel": "D", "age": "Middle", "treat": "Control", "v": 35.3},
      {"panel": "D", "age": "Middle", "treat": "Control", "v": 35.0},
      {"panel": "D", "age": "Middle", "treat": "Control", "v": 34.2},
      {"panel": "D", "age": "Middle", "treat": "Control", "v": 34.0},
      {"panel": "D", "age": "Middle", "treat": "Control", "v": 33.9},
      {"panel": "D", "age": "Middle", "treat": "Control", "v": 32.8},
      {"panel": "D", "age": "Middle", "treat": "Control", "v": 32.7},
      {"panel": "D", "age": "Middle", "treat": "Exercise", "v": 36.9},
      {"panel": "D", "age": "Middle", "treat": "Exercise", "v": 35.8},
      {"panel": "D", "age": "Middle", "treat": "Exercise", "v": 35.7},
      {"panel": "D", "age": "Middle", "treat": "Exercise", "v": 35.3},
      {"panel": "D", "age": "Middle", "treat": "Exercise", "v": 35.1},
      {"panel": "D", "age": "Middle", "treat": "Exercise", "v": 34.9},
      {"panel": "D", "age": "Middle", "treat": "Exercise", "v": 34.5},
      {"panel": "D", "age": "Middle", "treat": "Exercise", "v": 34.3},
      {"panel": "D", "age": "Middle", "treat": "Exercise", "v": 33.8},
      {"panel": "D", "age": "Middle", "treat": "Exercise", "v": 33.3},
      {"panel": "D", "age": "Middle", "treat": "Exercise", "v": 32.7},
      {"panel": "D", "age": "Middle", "treat": "Exercise", "v": 32.3},
      {"panel": "D", "age": "Old", "treat": "Control", "v": 39.5},
      {"panel": "D", "age": "Old", "treat": "Control", "v": 39.4},
      {"panel": "D", "age": "Old", "treat": "Control", "v": 39.2},
      {"panel": "D", "age": "Old", "treat": "Control", "v": 39.1},
      {"panel": "D", "age": "Old", "treat": "Control", "v": 39.0},
      {"panel": "D", "age": "Old", "treat": "Control", "v": 39.0},
      {"panel": "D", "age": "Old", "treat": "Control", "v": 37.0},
      {"panel": "D", "age": "Old", "treat": "Control", "v": 36.0},
      {"panel": "D", "age": "Old", "treat": "Control", "v": 35.6},
      {"panel": "D", "age": "Old", "treat": "Control", "v": 35.0},
      {"panel": "D", "age": "Old", "treat": "Control", "v": 34.5},
      {"panel": "D", "age": "Old", "treat": "Control", "v": 33.2},
      {"panel": "D", "age": "Old", "treat": "Control", "v": 32.5},
      {"panel": "D", "age": "Old", "treat": "Exercise", "v": 48.0},
      {"panel": "D", "age": "Old", "treat": "Exercise", "v": 44.9},
      {"panel": "D", "age": "Old", "treat": "Exercise", "v": 37.0},
      {"panel": "D", "age": "Old", "treat": "Exercise", "v": 36.0},
      {"panel": "D", "age": "Old", "treat": "Exercise", "v": 35.6},
      {"panel": "D", "age": "Old", "treat": "Exercise", "v": 35.5},
      {"panel": "D", "age": "Old", "treat": "Exercise", "v": 35.4},
      {"panel": "D", "age": "Old", "treat": "Exercise", "v": 35.3},
      {"panel": "D", "age": "Old", "treat": "Exercise", "v": 35.0},
      {"panel": "D", "age": "Old", "treat": "Exercise", "v": 34.6},
      {"panel": "D", "age": "Old", "treat": "Exercise", "v": 33.5},
      {"panel": "D", "age": "Old", "treat": "Exercise", "v": 32.5},
      {"panel": "E", "age": "Young", "treat": "Control", "v": 9.75},
      {"panel": "E", "age": "Young", "treat": "Control", "v": 9.45},
      {"panel": "E", "age": "Young", "treat": "Control", "v": 9.4},
      {"panel": "E", "age": "Young", "treat": "Control", "v": 9.35},
      {"panel": "E", "age": "Young", "treat": "Control", "v": 9.2},
      {"panel": "E", "age": "Young", "treat": "Control", "v": 9.05},
      {"panel": "E", "age": "Young", "treat": "Control", "v": 8.95},
      {"panel": "E", "age": "Young", "treat": "Control", "v": 8.9},
      {"panel": "E", "age": "Young", "treat": "Control", "v": 8.55},
      {"panel": "E", "age": "Young", "treat": "Control", "v": 8.35},
      {"panel": "E", "age": "Young", "treat": "Control", "v": 8.35},
      {"panel": "E", "age": "Young", "treat": "Exercise", "v": 9.9},
      {"panel": "E", "age": "Young", "treat": "Exercise", "v": 9.75},
      {"panel": "E", "age": "Young", "treat": "Exercise", "v": 9.55},
      {"panel": "E", "age": "Young", "treat": "Exercise", "v": 9.3},
      {"panel": "E", "age": "Young", "treat": "Exercise", "v": 9.25},
      {"panel": "E", "age": "Young", "treat": "Exercise", "v": 9.2},
      {"panel": "E", "age": "Young", "treat": "Exercise", "v": 9.15},
      {"panel": "E", "age": "Young", "treat": "Exercise", "v": 9.1},
      {"panel": "E", "age": "Young", "treat": "Exercise", "v": 9.0},
      {"panel": "E", "age": "Young", "treat": "Exercise", "v": 8.9},
      {"panel": "E", "age": "Young", "treat": "Exercise", "v": 8.85},
      {"panel": "E", "age": "Young", "treat": "Exercise", "v": 8.8},
      {"panel": "E", "age": "Young", "treat": "Exercise", "v": 8.45},
      {"panel": "E", "age": "Middle", "treat": "Control", "v": 10.0},
      {"panel": "E", "age": "Middle", "treat": "Control", "v": 9.9},
      {"panel": "E", "age": "Middle", "treat": "Control", "v": 9.65},
      {"panel": "E", "age": "Middle", "treat": "Control", "v": 9.6},
      {"panel": "E", "age": "Middle", "treat": "Control", "v": 9.55},
      {"panel": "E", "age": "Middle", "treat": "Control", "v": 9.45},
      {"panel": "E", "age": "Middle", "treat": "Control", "v": 9.3},
      {"panel": "E", "age": "Middle", "treat": "Control", "v": 9.2},
      {"panel": "E", "age": "Middle", "treat": "Control", "v": 9.05},
      {"panel": "E", "age": "Middle", "treat": "Control", "v": 9.0},
      {"panel": "E", "age": "Middle", "treat": "Control", "v": 8.3},
      {"panel": "E", "age": "Middle", "treat": "Exercise", "v": 9.75},
      {"panel": "E", "age": "Middle", "treat": "Exercise", "v": 9.55},
      {"panel": "E", "age": "Middle", "treat": "Exercise", "v": 9.45},
      {"panel": "E", "age": "Middle", "treat": "Exercise", "v": 9.35},
      {"panel": "E", "age": "Middle", "treat": "Exercise", "v": 9.3},
      {"panel": "E", "age": "Middle", "treat": "Exercise", "v": 9.15},
      {"panel": "E", "age": "Middle", "treat": "Exercise", "v": 9.1},
      {"panel": "E", "age": "Middle", "treat": "Exercise", "v": 9.05},
      {"panel": "E", "age": "Middle", "treat": "Exercise", "v": 8.9},
      {"panel": "E", "age": "Middle", "treat": "Exercise", "v": 8.75},
      {"panel": "E", "age": "Middle", "treat": "Exercise", "v": 8.6},
      {"panel": "E", "age": "Middle", "treat": "Exercise", "v": 8.5},
      {"panel": "E", "age": "Old", "treat": "Control", "v": 10.85},
      {"panel": "E", "age": "Old", "treat": "Control", "v": 10.7},
      {"panel": "E", "age": "Old", "treat": "Control", "v": 10.68},
      {"panel": "E", "age": "Old", "treat": "Control", "v": 10.55},
      {"panel": "E", "age": "Old", "treat": "Control", "v": 10.4},
      {"panel": "E", "age": "Old", "treat": "Control", "v": 10.3},
      {"panel": "E", "age": "Old", "treat": "Control", "v": 10.25},
      {"panel": "E", "age": "Old", "treat": "Control", "v": 10.05},
      {"panel": "E", "age": "Old", "treat": "Control", "v": 9.8},
      {"panel": "E", "age": "Old", "treat": "Control", "v": 9.5},
      {"panel": "E", "age": "Old", "treat": "Control", "v": 9.5},
      {"panel": "E", "age": "Old", "treat": "Control", "v": 9.2},
      {"panel": "E", "age": "Old", "treat": "Control", "v": 8.95},
      {"panel": "E", "age": "Old", "treat": "Exercise", "v": 12.6},
      {"panel": "E", "age": "Old", "treat": "Exercise", "v": 11.6},
      {"panel": "E", "age": "Old", "treat": "Exercise", "v": 10.4},
      {"panel": "E", "age": "Old", "treat": "Exercise", "v": 10.0},
      {"panel": "E", "age": "Old", "treat": "Exercise", "v": 9.75},
      {"panel": "E", "age": "Old", "treat": "Exercise", "v": 9.7},
      {"panel": "E", "age": "Old", "treat": "Exercise", "v": 9.6},
      {"panel": "E", "age": "Old", "treat": "Exercise", "v": 9.55},
      {"panel": "E", "age": "Old", "treat": "Exercise", "v": 9.4},
      {"panel": "E", "age": "Old", "treat": "Exercise", "v": 9.3},
      {"panel": "E", "age": "Old", "treat": "Exercise", "v": 9.1},
      {"panel": "E", "age": "Old", "treat": "Exercise", "v": 8.95}
    ]
  },
  "config": {
    "font": "Liberation Sans",
    "view": {"stroke": null},
    "axis": {"grid": false, "domainColor": "#333333", "tickColor": "#333333", "labelColor": "#111111", "titleColor": "#111111", "labelFontSize": 11, "titleFontSize": 11, "titleFontWeight": "bold", "tickSize": 5, "labelPadding": 2, "titlePadding": 3},
    "title": {"color": "#111111"}
  }
}
